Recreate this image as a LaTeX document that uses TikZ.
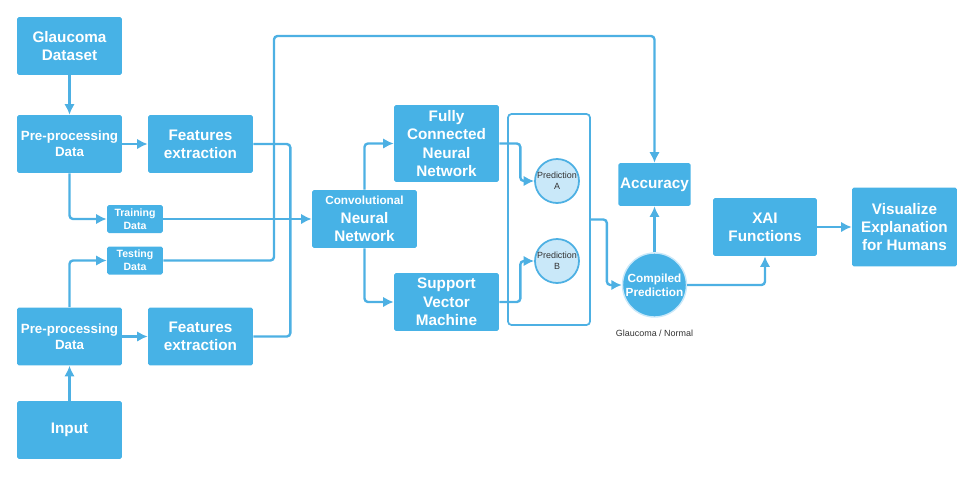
\documentclass[tikz,border=0pt]{standalone}
\usepackage{fontspec}
\setmainfont{Liberation Sans}
\usepackage{tikz}
\usepackage{xcolor}
\usetikzlibrary{arrows.meta, positioning}

\definecolor{boxblue}{HTML}{47B2E6}
\definecolor{lineblue}{HTML}{4DB0E3}
\definecolor{predfill}{HTML}{C9E8F9}
\definecolor{darktext}{HTML}{333333}

\begin{document}
\begin{tikzpicture}[x=0.02cm, y=-0.02cm,
    box/.style={fill=boxblue, text=white, align=center, rounded corners=1pt,
        inner sep=1pt, minimum width=2.1cm, minimum height=1.16cm,
        font=\bfseries\fontsize{8.7}{10.4}\selectfont},
    smallbox/.style={box, minimum width=1.12cm, minimum height=0.56cm,
        font=\bfseries\fontsize{6}{7.2}\selectfont},
    predcircle/.style={circle, draw=lineblue, line width=1pt, fill=predfill,
        text=darktext, align=center, minimum size=0.88cm, inner sep=0pt,
        font=\fontsize{5.1}{6.4}\selectfont},
    bigcircle/.style={circle, draw=predfill, line width=0.8pt, fill=boxblue,
        text=white, align=center, minimum size=1.28cm, inner sep=0pt,
        font=\bfseries\fontsize{6.7}{8.2}\selectfont},
    frame/.style={draw=lineblue, line width=1pt, rounded corners=2pt,
        minimum width=1.64cm, minimum height=4.22cm},
    conn/.style={draw=lineblue, line width=1.35pt, rounded corners=2pt},
    arr/.style={conn, -{Latex[length=6pt, width=6pt]}}
]
    \useasboundingbox (0, 0) rectangle (975, 477);

    \node[box] (dataset) at (69.5, 46) {Glaucoma\\Dataset};
    \node[box, font=\bfseries\fontsize{7.6}{9.2}\selectfont] (pretop) at (69.5, 144) {Pre-processing\\Data};
    \node[box] (feattop) at (200.5, 144) {Features\\extraction};
    \node[smallbox] (train) at (135, 219) {Training\\Data};
    \node[smallbox] (test) at (135, 260.5) {Testing\\Data};
    \node[box, font=\bfseries\fontsize{7.6}{9.2}\selectfont] (prebot) at (69.5, 336.5) {Pre-processing\\Data};
    \node[box] (featbot) at (200.5, 336.5) {Features\\extraction};
    \node[box] (input) at (69.5, 430) {Input};

    \node[box] (cnn) at (364.5, 219) {{\fontsize{6.7}{8}\selectfont Convolutional}\\Neural\\Network};
    \node[box, minimum height=1.54cm] (fcnn) at (446.5, 143.5) {Fully\\Connected\\Neural\\Network};
    \node[box] (svm) at (446.5, 302) {Support\\Vector\\Machine};

    \node[frame] (predframe) at (549, 219.5) {};
    \node[predcircle] (preda) at (557, 181) {Prediction\\A};
    \node[predcircle] (predb) at (557, 261) {Prediction\\B};

    \node[box, minimum width=1.42cm, minimum height=0.86cm] (acc) at (654.5, 184.5) {Accuracy};
    \node[bigcircle] (comp) at (654.5, 285) {Compiled\\Prediction};
    \node[text=darktext, font=\fontsize{5.1}{6}\selectfont] (label) at (654.5, 333) {Glaucoma / Normal};

    \node[box, minimum width=2.08cm] (xai) at (765, 227) {XAI\\Functions};
    \node[box, minimum height=1.58cm] (visual) at (904.5, 227) {Visualize\\Explanation\\for Humans};

    \coordinate (topbend) at (274, 36);

    \draw[arr] (dataset) -- (pretop);
    \draw[arr] (pretop) -- (feattop);
    \draw[arr] (pretop.south) |- (train.west);
    \draw[arr] (train) -- (cnn);
    \draw[arr] (input) -- (prebot);
    \draw[arr] (prebot) -- (featbot);
    \draw[arr] (prebot.north) |- (test.west);
    \draw[arr] (test.east) -| (topbend) -| (acc.north);
    \draw[conn] (feattop.east) -- ++(37, 0) |- (featbot.east);

    \draw[arr] (cnn.north) |- (fcnn.west);
    \draw[arr] (cnn.south) |- (svm.west);
    \draw[arr] (fcnn.east) -- ++(21, 0) |- (preda.west);
    \draw[arr] (svm.east) -- ++(21, 0) |- (predb.west);
    \draw[arr] (predframe.east) -- ++(16, 0) |- (comp.west);
    \draw[arr] (comp) -- (acc);
    \draw[arr] (comp.east) -| (xai.south);
    \draw[arr] (xai) -- (visual);
\end{tikzpicture}
\end{document}
